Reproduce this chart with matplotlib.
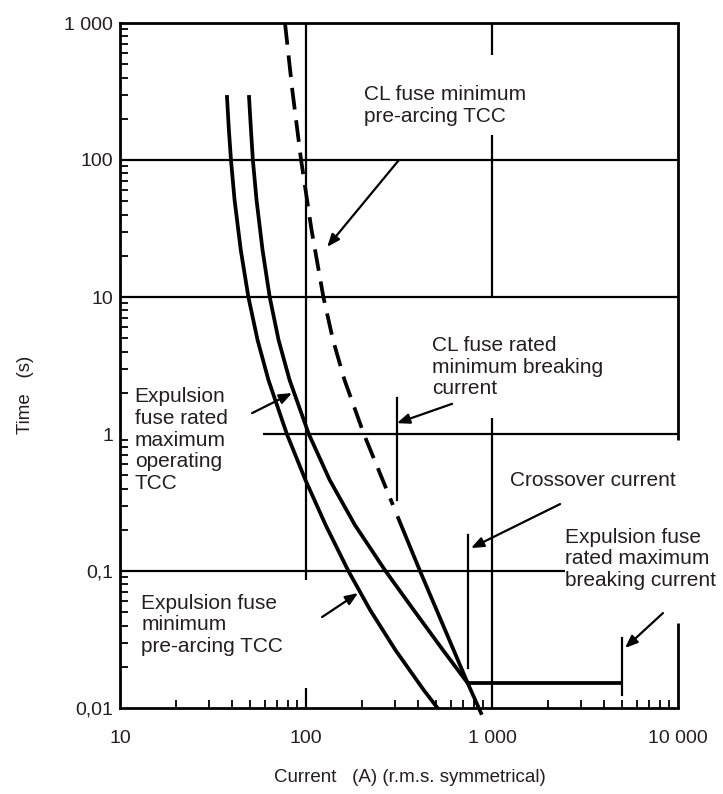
import matplotlib
matplotlib.use("Agg")
import matplotlib.pyplot as plt
from matplotlib.ticker import FixedLocator, FixedFormatter, NullFormatter

plt.rcParams["font.family"] = ["Liberation Sans", "DejaVu Sans"]

INK = "#231f20"

# Axis ticks
current_ticks = [10, 100, 1000, 10000]
current_labels = ["10", "100", "1 000", "10 000"]
time_ticks = [0.01, 0.1, 1, 10, 100, 1000]
time_labels = ["0,01", "0,1", "1", "10", "100", "1 000"]
minor_steps = [2, 3, 4, 5, 6, 7, 8, 9]

# Expulsion fuse minimum pre-arcing TCC
exp_min_current = [37.6, 38.5, 39.5, 41.3, 44.6, 49.0, 54.9, 62.8, 78.9, 99.3,
                   127.5, 169.0, 221.2, 302.4, 429.4, 509.3]
exp_min_time = [288.4, 165.6, 100, 51.1, 22.0, 10, 4.855, 2.479, 1.0, 0.4615,
                0.2167, 0.1, 0.05191, 0.02651, 0.01353, 0.01]

# Expulsion fuse rated maximum operating TCC
exp_max_current = [49.4, 50.6, 51.8, 54.2, 58.4, 63.8, 71.2, 81.6, 103.5, 134.1,
                   183.2, 267.6, 379.3, 544.5, 740]
exp_max_time = [288.4, 165.6, 100, 51.1, 22.0, 10, 4.855, 2.479, 1.0, 0.4615,
                0.2167, 0.1, 0.05191, 0.02651, 0.0152]

# CL fuse minimum pre-arcing TCC, below and above the rated minimum breaking current
cl_low_current = [77.1, 84.4, 94.1, 107.1, 124.0, 139.7, 161.1, 204.6, 258.4, 293.3]
cl_low_time = [1000, 324.3, 100, 30.84, 10, 4.855, 2.479, 1.0, 0.4615, 0.3032]
cl_high_current = [313.1, 410.2, 559.6, 740, 873.0]
cl_high_time = [0.2437, 0.1, 0.0371, 0.0152, 0.00919]

# Characteristic currents
cl_min_breaking = 308
cl_min_breaking_span = [0.33, 1.83]
crossover_current = 740
crossover_time = 0.0152
crossover_span = [0.0196, 0.183]
exp_max_breaking = 5000
exp_max_breaking_span = [0.01245, 0.0324]

# Reference lines of the log grid (partly interrupted around the captions)
h_lines = [(10, 10000, 100), (10, 10000, 10), (58.7, 10000, 1), (10, 2467, 0.1)]
v_lines = [(100, 1000, 0.086), (100, 0.014, 0.01),
           (1000, 1000, 583), (1000, 152, 9.8), (1000, 1.31, 0.01)]
right_edge = [(10000, 1000, 0.904), (10000, 0.0417, 0.01)]

fig = plt.figure(figsize=(7.23, 7.94), dpi=100)
ax = fig.add_axes([120 / 723, 1 - 708 / 794, 558 / 723, 685 / 794])
ax.set_xscale("log")
ax.set_yscale("log")
ax.set_xlim(10, 10000)
ax.set_ylim(0.01, 1000)

SPINE_LW = 2.0
GRID_LW = 1.6
CURVE_LW = 2.7

for side in ("left", "top", "bottom"):
    ax.spines[side].set_linewidth(SPINE_LW)
    ax.spines[side].set_color("black")
ax.spines["right"].set_visible(False)

x_minor = [m * d for d in current_ticks[:-1] for m in minor_steps]
y_minor = [m * d for d in time_ticks[:-1] for m in minor_steps]
ax.xaxis.set_major_locator(FixedLocator(current_ticks))
ax.xaxis.set_major_formatter(FixedFormatter(current_labels))
ax.yaxis.set_major_locator(FixedLocator(time_ticks))
ax.yaxis.set_major_formatter(FixedFormatter(time_labels))
ax.xaxis.set_minor_locator(FixedLocator(x_minor))
ax.yaxis.set_minor_locator(FixedLocator(y_minor))
ax.xaxis.set_minor_formatter(NullFormatter())
ax.yaxis.set_minor_formatter(NullFormatter())
ax.tick_params(which="major", length=0, labelsize=14, colors=INK)
ax.tick_params(axis="x", which="major", pad=16)
ax.tick_params(axis="y", which="major", pad=5)
ax.tick_params(which="minor", direction="in", length=5.5, width=1.3, color="black")

for x0, x1, y in h_lines:
    ax.plot([x0, x1], [y, y], color="black", lw=GRID_LW, solid_capstyle="butt")
for x, y0, y1 in v_lines:
    ax.plot([x, x], [y0, y1], color="black", lw=GRID_LW, solid_capstyle="butt")
for x, y0, y1 in right_edge:
    ax.plot([x, x], [y0, y1], color="black", lw=SPINE_LW, clip_on=False,
            solid_capstyle="butt")

# Time-current characteristics
ax.plot(exp_min_current, exp_min_time, color="black", lw=CURVE_LW,
        solid_joinstyle="round")
ax.plot(exp_max_current, exp_max_time, color="black", lw=CURVE_LW,
        solid_joinstyle="round")
ax.plot(cl_low_current, cl_low_time, color="black", lw=CURVE_LW,
        linestyle=(0, (5.8, 2.9)), dash_capstyle="butt")
ax.plot(cl_high_current, cl_high_time, color="black", lw=CURVE_LW, clip_on=False,
        solid_joinstyle="round")

# Characteristic current markers
ax.plot([cl_min_breaking] * 2, cl_min_breaking_span, color="black", lw=GRID_LW)
ax.plot([crossover_current] * 2, crossover_span, color="black", lw=GRID_LW)
ax.plot([exp_max_breaking] * 2, exp_max_breaking_span, color="black", lw=GRID_LW)
ax.plot([crossover_current, exp_max_breaking], [crossover_time] * 2,
        color="black", lw=CURVE_LW, solid_capstyle="butt")

# Captions with leader arrows
captions = [
    ("CL fuse minimum\npre-arcing TCC", (205, 250), (316, 100), (130, 23.2)),
    ("CL fuse rated\nminimum breaking\ncurrent", (476, 3.08), (610, 1.66), (308, 1.20)),
    ("Crossover current", (1250, 0.461), (2323, 0.308), (771, 0.147)),
    ("Expulsion fuse\nrated maximum\nbreaking current", (2467, 0.1225), (8300, 0.0493), (5190, 0.0274)),
    ("Expulsion\nfuse rated\nmaximum\noperating\nTCC", (12.0, 0.904), (51.3, 1.42), (84.1, 1.99)),
    ("Expulsion fuse\nminimum\npre-arcing TCC", (13.0, 0.0404), (122, 0.0461), (190.5, 0.069)),
]
for text, pos, tail, tip in captions:
    ax.text(pos[0], pos[1], text, ha="left", va="center", fontsize=15,
            color=INK, linespacing=1.18)
    ax.annotate("", xy=tip, xytext=tail,
                arrowprops=dict(arrowstyle="-|>,head_length=0.75,head_width=0.3",
                                color="black", lw=1.6, shrinkA=0, shrinkB=0))

fig.text(410 / 723, 1 - 777 / 794, "Current   (A) (r.m.s. symmetrical)",
         ha="center", va="center", fontsize=13.5, color=INK)
fig.text(25 / 723, 1 - 395 / 794, "Time   (s)", ha="center", va="center",
         rotation=90, fontsize=13.5, color=INK)

fig.savefig("out.png", dpi=100, facecolor="white")
